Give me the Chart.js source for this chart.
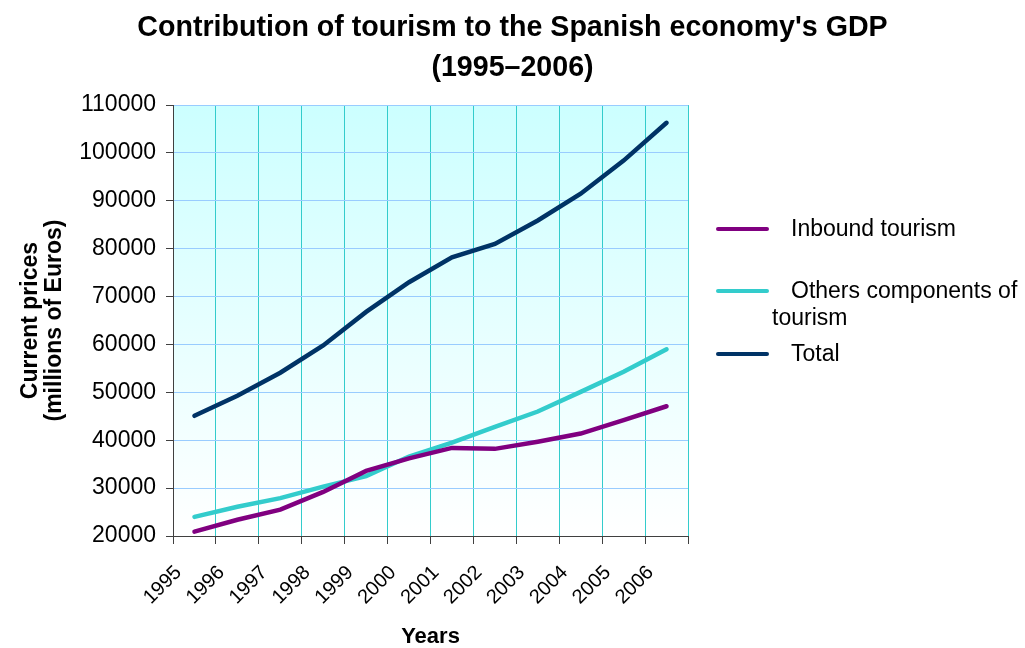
<!DOCTYPE html>
<html>
<head>
<meta charset="utf-8">
<script src="https://cdn.jsdelivr.net/npm/chart.js@4"></script>
<style>
  html, body { margin: 0; padding: 0; background: #ffffff; }
  #wrap { width: 1025px; height: 648px; }
</style>
</head>
<body>
<div id="wrap"><canvas id="tourism-chart" width="1025" height="648"></canvas></div>
<script>
const years = ['1995', '1996', '1997', '1998', '1999', '2000', '2001', '2002', '2003', '2004', '2005', '2006']

const inboundTourism = [20900, 23400, 25500, 29200, 33600, 36200, 38400, 38200, 39700, 41400, 44200, 47100]
const otherComponents = [24000, 26100, 27900, 30300, 32500, 36600, 39500, 42800, 46000, 50100, 54300, 59000]
const totalTourism = [45100, 49300, 54100, 59800, 66800, 73000, 78200, 81000, 85900, 91500, 98400, 106300]

const seriesNames = ['Inbound tourism', 'Others components of tourism', 'Total']

const FONT = 'Arial, "Liberation Sans", sans-serif'

// light cyan wash behind the plot, fading to white at the bottom
const plotBackground = {
    id: 'plotBackground',
    beforeDraw(chart) {
        const { ctx, chartArea: a } = chart
        const g = ctx.createLinearGradient(0, a.top, 0, a.bottom)
        g.addColorStop(0, '#ccffff')
        g.addColorStop(1, '#ffffff')
        ctx.save()
        ctx.fillStyle = g
        ctx.fillRect(a.left, a.top, a.right - a.left, a.bottom - a.top)
        ctx.restore()
    }
}

// legend on the right, drawn by hand so the long label can wrap like the original
const sideLegend = {
    id: 'sideLegend',
    afterDraw(chart) {
        const ctx = chart.ctx
        const rows = [229, 291, 354]
        const textX = 791
        const wrapX = 772
        const maxRight = 1024
        ctx.save()
        ctx.font = '23px ' + FONT
        ctx.textBaseline = 'middle'
        ctx.fillStyle = '#000000'
        chart.data.datasets.forEach((ds, i) => {
            const y = rows[i]
            ctx.strokeStyle = ds.borderColor
            ctx.lineWidth = 4
            ctx.lineCap = 'round'
            ctx.beginPath()
            ctx.moveTo(718, y)
            ctx.lineTo(767, y)
            ctx.stroke()

            const words = ds.label.split(' ')
            let line = ''
            let x = textX
            let ly = y + 1
            words.forEach(w => {
                const test = line ? line + ' ' + w : w
                if (line && x + ctx.measureText(test).width > maxRight) {
                    ctx.fillText(line, x, ly)
                    line = w
                    x = wrapX
                    ly += 27
                } else {
                    line = test
                }
            })
            ctx.fillText(line, x, ly)
        })
        ctx.restore()
    }
}

const data = {
    labels: years,
    datasets: [
        {
            label: seriesNames[0],
            data: inboundTourism,
            borderColor: '#800080',
            backgroundColor: '#800080',
            borderWidth: 4.5,
            pointRadius: 0,
            tension: 0,
            borderCapStyle: 'round'
        },
        {
            label: seriesNames[1],
            data: otherComponents,
            borderColor: '#33cccc',
            backgroundColor: '#33cccc',
            borderWidth: 4.5,
            pointRadius: 0,
            tension: 0,
            borderCapStyle: 'round'
        },
        {
            label: seriesNames[2],
            data: totalTourism,
            borderColor: '#003366',
            backgroundColor: '#003366',
            borderWidth: 4.5,
            pointRadius: 0,
            tension: 0,
            borderCapStyle: 'round'
        }
    ]
}

const config = {
    type: 'line',
    data,
    plugins: [plotBackground, sideLegend],
    options: {
        responsive: false,
        animation: false,
        layout: {
            padding: 0
        },
        plugins: {
            legend: { display: false },
            tooltip: { enabled: false },
            title: {
                display: true,
                text: ['Contribution of tourism to the Spanish economy\'s GDP', '(1995\u20132006)'],
                color: '#000000',
                font: { family: FONT, size: 28.6, weight: 'bold', lineHeight: 1.4 },
                padding: { top: 8, bottom: 17 }
            }
        },
        scales: {
            x: {
                offset: true,
                grid: {
                    offset: true,
                    color: '#33cccc',
                    tickColor: '#404040',
                    tickLength: 8
                },
                border: { color: '#404040', width: 1 },
                ticks: {
                    color: '#000000',
                    font: { family: FONT, size: 20 },
                    minRotation: 45,
                    maxRotation: 45,
                    padding: 17,
                    labelOffset: -16
                },
                title: {
                    display: true,
                    text: 'Years',
                    color: '#000000',
                    font: { family: FONT, size: 22, weight: 'bold', lineHeight: 1 },
                    padding: { top: 0, bottom: 0 }
                },
                afterFit(scale) { scale.height = 112 }
            },
            y: {
                min: 20000,
                max: 110000,
                ticks: {
                    stepSize: 10000,
                    color: '#000000',
                    font: { family: FONT, size: 23 },
                    padding: 10,
                    callback: v => String(v)
                },
                grid: {
                    color: '#99ccff',
                    tickColor: '#404040',
                    tickLength: 7
                },
                border: { color: '#404040', width: 1 },
                title: {
                    display: true,
                    text: ['Current prices', '(millions of Euros)'],
                    color: '#000000',
                    font: { family: FONT, size: 23, weight: 'bold', lineHeight: 1.02 },
                    padding: { top: 19, bottom: 0 }
                },
                afterFit(scale) { scale.width = 173 }
            },
            // empty axis that only reserves room on the right for the legend
            legendSpace: {
                type: 'linear',
                position: 'right',
                display: true,
                grid: { display: false, drawTicks: false },
                border: { display: false },
                ticks: { display: false },
                afterFit(scale) { scale.width = 337 }
            }
        }
    }
}

const tourismChart = new Chart(document.getElementById('tourism-chart').getContext('2d'), config)
</script>
</body>
</html>
